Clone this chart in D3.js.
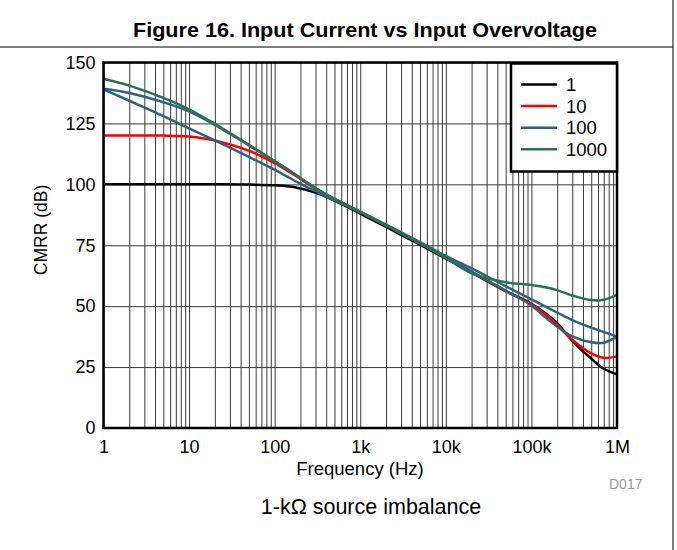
<!DOCTYPE html>
<html>
<head>
<meta charset="utf-8">
<script src="https://cdn.jsdelivr.net/npm/d3@7"></script>
<style>
  body { margin: 0; background: #fff; }
  text { font-family: "Liberation Sans", Arial, sans-serif; }
</style>
</head>
<body>
<div id="chart"></div>
<script>
//-------------------- data --------------------
let freq = [1, 2, 5, 10, 20, 50, 100, 150, 200, 300, 500, 1e3, 2e3, 5e3, 1e4, 2e4, 5e4, 1e5, 1.5e5, 2e5, 3e5, 5e5, 7e5, 1e6];

let cmrrG1    = [100, 100, 100, 100, 100, 99.9, 99.6, 99.1, 98.3, 96.6, 93.3, 88.0, 82.5, 75.2, 69.6, 63.8, 56.2, 51.0, 46.8, 43.0, 35.8, 28.5, 24.3, 22.0];
let cmrrG10   = [120, 120, 120, 119.6, 118.0, 113.8, 108.7, 105.0, 102.2, 98.3, 93.9, 88.6, 83.1, 75.8, 70.0, 64.1, 56.3, 50.8, 46.3, 42.3, 36.2, 30.6, 28.8, 29.4];
let cmrrG100  = [139.2, 137.5, 133.7, 130.0, 124.4, 116.0, 109.4, 105.5, 102.5, 98.4, 94.0, 88.8, 83.5, 76.3, 70.6, 65.5, 58.2, 52.8, 49.6, 47.4, 44.3, 41.2, 39.4, 37.5];
let cmrrG100b = [139.0, 134.3, 128.0, 123.0, 118.0, 111.3, 106.0, 102.6, 100.2, 97.2, 93.4, 88.5, 83.1, 75.8, 70.1, 64.2, 56.4, 50.3, 45.0, 41.6, 37.6, 35.2, 35.0, 37.5];
let cmrrG1000 = [143.3, 140.5, 135.5, 130.8, 124.8, 116.2, 109.6, 105.6, 102.6, 98.5, 94.0, 88.7, 83.3, 75.9, 69.8, 63.5, 59.8, 58.7, 57.7, 56.6, 54.4, 52.5, 52.6, 54.6];

let gains = ["1", "10", "100", "100b", "1000"];
let legendGains = ["1", "10", "100", "1000"];

let xTickValues = [1, 10, 100, 1e3, 1e4, 1e5, 1e6];
let xTickLabels = ["1", "10", "100", "1k", "10k", "100k", "1M"];
let yTickValues = [0, 25, 50, 75, 100, 125, 150];

let series = [
  {gain: "1", values: cmrrG1},
  {gain: "10", values: cmrrG10},
  {gain: "100", values: cmrrG100},
  {gain: "100b", values: cmrrG100b},
  {gain: "1000", values: cmrrG1000}
];

//-------------------- layout --------------------
let width = 677, height = 550;
let plotLeft = 103.5, plotRight = 617, plotTop = 62.5, plotBottom = 428;

let svg = d3.select("#chart").append("svg")
  .attr("width", width)
  .attr("height", height);

// scales
let xScale = d3.scaleLog().domain([1, 1e6]).range([plotLeft, plotRight]);
let yScale = d3.scaleLinear().domain([0, 150]).range([plotBottom, plotTop]);
let color = d3.scaleOrdinal()
  .domain(gains)
  .range(["#000000", "#ff0000", "#2f6182", "#2f6182", "#2d7050"]);

// page frame from the datasheet
svg.append("line").attr("x1", 0).attr("x2", 673).attr("y1", 47).attr("y2", 47)
  .style("stroke", "#000").style("stroke-width", 1);
svg.append("line").attr("x1", 673).attr("x2", 673).attr("y1", 0).attr("y2", height)
  .style("stroke", "#000").style("stroke-width", 1);

svg.append("text")
  .attr("x", 365).attr("y", 37)
  .attr("text-anchor", "middle")
  .attr("textLength", 464).attr("lengthAdjust", "spacingAndGlyphs")
  .style("font-size", "20px").style("font-weight", "bold")
  .text("Figure 16. Input Current vs Input Overvoltage");

//-------------------- grid --------------------
let grid = svg.append("g").attr("class", "grid");

grid.append("g")
  .attr("transform", `translate(0,${plotBottom})`)
  .call(d3.axisBottom(xScale).tickValues(xScale.ticks()).tickSize(-(plotBottom - plotTop)).tickFormat(""))
  .call(g => g.select(".domain").remove())
  .call(g => g.selectAll("line").style("stroke", "#3a3a3a").style("stroke-width", 1));

grid.append("g")
  .attr("transform", `translate(${plotLeft},0)`)
  .call(d3.axisLeft(yScale).tickValues(yTickValues).tickSize(-(plotRight - plotLeft)).tickFormat(""))
  .call(g => g.select(".domain").remove())
  .call(g => g.selectAll("line").style("stroke", "#3a3a3a").style("stroke-width", 1));

//-------------------- curves --------------------
let line = d3.line()
  .x((d, i) => xScale(freq[i]))
  .y(d => yScale(d))
  .curve(d3.curveCatmullRom.alpha(0.5));

svg.append("g").selectAll("path").data(series).enter().append("path")
  .attr("d", d => line(d.values))
  .style("fill", "none")
  .style("stroke", d => color(d.gain))
  .style("stroke-width", 2.5);

// plot border
svg.append("rect")
  .attr("x", plotLeft).attr("y", plotTop)
  .attr("width", plotRight - plotLeft).attr("height", plotBottom - plotTop)
  .style("fill", "none").style("stroke", "#000").style("stroke-width", 2.5);

//-------------------- axes --------------------
let xAx = svg.append("g").attr("transform", `translate(0,${plotBottom})`)
  .call(d3.axisBottom(xScale).tickValues(xTickValues).tickSize(0).tickPadding(12)
    .tickFormat((d, i) => xTickLabels[i]));
xAx.select(".domain").remove();
xAx.selectAll("text").style("font-size", "18px").style("fill", "#000");

let yAx = svg.append("g").attr("transform", `translate(${plotLeft},0)`)
  .call(d3.axisLeft(yScale).tickValues(yTickValues).tickSize(0).tickPadding(8));
yAx.select(".domain").remove();
yAx.selectAll("text").style("font-size", "18px").style("fill", "#000");

svg.append("text")
  .attr("transform", "translate(47,230) rotate(-90)")
  .attr("text-anchor", "middle")
  .style("font-size", "17.5px")
  .text("CMRR (dB)");

svg.append("text")
  .attr("x", 360).attr("y", 475)
  .attr("text-anchor", "middle")
  .style("font-size", "18.5px")
  .text("Frequency (Hz)");

svg.append("text")
  .attr("x", 609).attr("y", 489)
  .style("font-size", "14px").style("fill", "#9a9a9a")
  .text("D017");

svg.append("text")
  .attr("x", 371).attr("y", 514)
  .attr("text-anchor", "middle")
  .style("font-size", "21.5px")
  .text("1-k\u03A9 source imbalance");

//-------------------- legend --------------------
let legend = svg.append("g");
legend.append("rect")
  .attr("x", 511).attr("y", 63.5).attr("width", 106).attr("height", 108)
  .style("fill", "#fff").style("stroke", "#000").style("stroke-width", 2.5);

let rows = legend.selectAll("g.row").data(legendGains).enter().append("g")
  .attr("class", "row")
  .attr("transform", (d, i) => `translate(0,${84.5 + i * 21.6})`);
rows.append("line")
  .attr("x1", 521).attr("x2", 557)
  .style("stroke", d => color(d)).style("stroke-width", 2.5);
rows.append("text")
  .attr("x", 566).attr("dy", "0.36em")
  .style("font-size", "18.5px")
  .text(d => d);
</script>
</body>
</html>
